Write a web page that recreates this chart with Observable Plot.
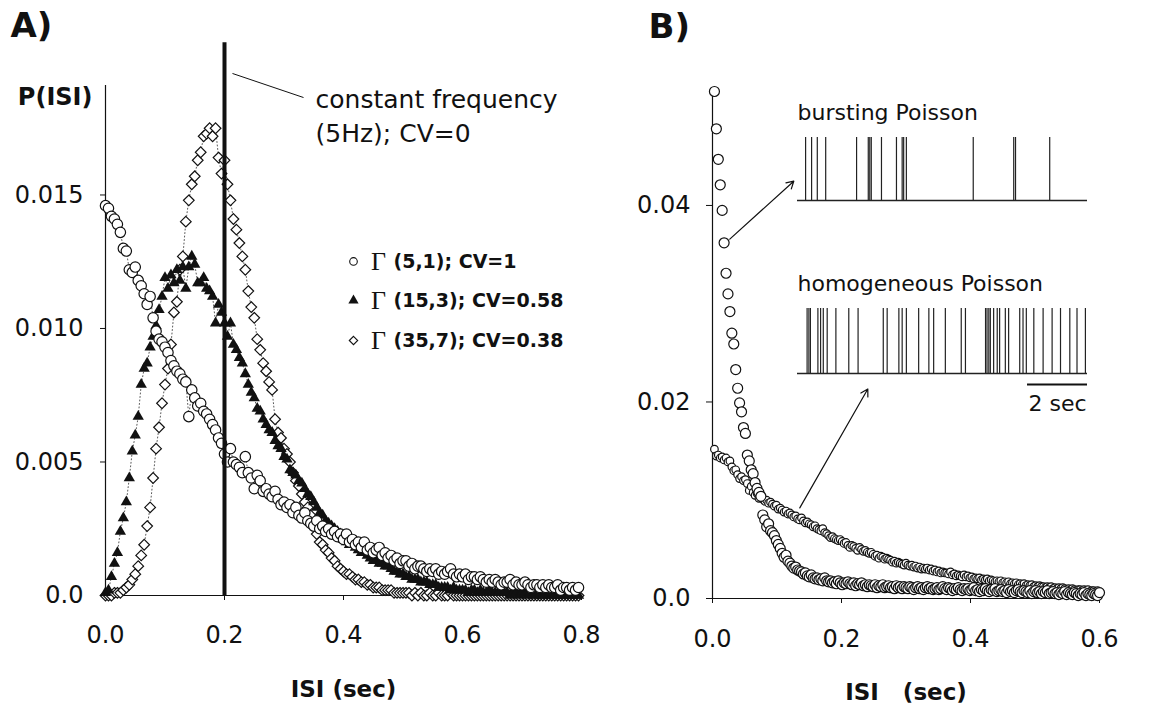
<!DOCTYPE html>
<html>
<head>
<meta charset="utf-8">
<script src="https://cdn.jsdelivr.net/npm/d3@7"></script>
<script src="https://cdn.jsdelivr.net/npm/@observablehq/plot@0.6"></script>
<style>
html, body { margin: 0; padding: 0; background: #fff; }
#chart { position: relative; width: 1152px; height: 706px; overflow: hidden; background: #fff; }
#chart > svg { position: absolute; }
</style>
</head>
<body>
<div id="chart"></div>
<script>
// ---------------- Panel A: ISI distributions of gamma processes ----------------
const binWidthA = 0.005;            // sec, ISI bin spacing in panel A
const xTicksA = [0, 0.2, 0.4, 0.6, 0.8];
const yTicksA = [0, 0.005, 0.010, 0.015];

const pGamma5_1 = [ // Γ(5,1); CV=1
0.0146,0.0145,0.0142,0.0141,0.0139,0.0136,0.0130,0.0129,0.0122,0.0121,
0.0123,0.0118,0.0116,0.0113,0.0109,0.0112,0.0104,0.0099,0.0096,0.0095,
0.0093,0.0091,0.0088,0.0086,0.0084,0.0083,0.0081,0.0080,0.0067,0.0077,
0.0074,0.0071,0.0072,0.0069,0.0068,0.0066,0.0064,0.0062,0.0059,0.0057,
0.0053,0.0050,0.0055,0.0050,0.0049,0.0048,0.0046,0.0052,0.0046,0.0044,
0.0040,0.0045,0.0043,0.0039,0.0040,0.0038,0.0037,0.0039,0.0036,0.0034,
0.0035,0.0033,0.0034,0.0031,0.0033,0.0030,0.0029,0.0031,0.0028,0.0027,
0.0026,0.0028,0.0025,0.0026,0.0024,0.0025,0.0023,0.0024,0.0022,0.0023,
0.0021,0.0023,0.0020,0.0021,0.0019,0.0020,0.0018,0.0020,0.0017,0.0018,
0.0016,0.0017,0.0018,0.0015,0.0016,0.0014,0.0015,0.0013,0.0014,0.0012,
0.0013,0.0013,0.0011,0.0012,0.0010,0.0011,0.0011,0.0010,0.0009,0.0010,
0.0009,0.0010,0.0008,0.0009,0.0008,0.0009,0.0010,0.0008,0.0007,0.0008,
0.0007,0.0008,0.0006,0.0007,0.0007,0.0006,0.0007,0.0006,0.0005,0.0006,
0.0005,0.0006,0.0005,0.0004,0.0005,0.0005,0.0006,0.0004,0.0005,0.0004,
0.0004,0.0005,0.0004,0.0003,0.0004,0.0004,0.0003,0.0004,0.0003,0.0004,
0.0003,0.0003,0.0004,0.0002,0.0003,0.0003,0.0002,0.0003,0.0002,0.0003];

const pGamma15_3 = [ // Γ(15,3); CV=0.58
0.0001,0.0002,0.0007,0.0012,0.0016,0.0024,0.0029,0.0035,0.0044,0.0054,
0.0060,0.0067,0.0079,0.0085,0.0087,0.0093,0.0097,0.0101,0.0107,0.0112,
0.0119,0.0115,0.0120,0.0117,0.0122,0.0118,0.0123,0.0115,0.0123,0.0127,
0.0124,0.0117,0.0117,0.0119,0.0115,0.0114,0.0112,0.0102,0.0109,0.0106,
0.0102,0.0097,0.0102,0.0094,0.0092,0.0089,0.0087,0.0083,0.0079,0.0076,
0.0074,0.0070,0.0069,0.0066,0.0064,0.0062,0.0061,0.0058,0.0056,0.0055,
0.0052,0.0051,0.0047,0.0046,0.0045,0.0043,0.0042,0.0040,0.0038,0.0037,
0.0035,0.0033,0.0031,0.0030,0.0028,0.0027,0.0026,0.0025,0.0024,0.0023,
0.0021,0.0020,0.0019,0.0019,0.0018,0.0017,0.0016,0.0016,0.0015,0.0014,
0.0013,0.0013,0.0012,0.0012,0.0011,0.0011,0.0010,0.0009,0.0009,0.0008,
0.0008,0.0007,0.0007,0.0006,0.0006,0.0006,0.0005,0.0005,0.0005,0.0004,
0.0004,0.0004,0.0003,0.0003,0.0003,0.0003,0.0002,0.0003,0.0002,0.0002,
0.0002,0.0002,0.0001,0.0002,0.0002,0.0001,0.0002,0.0001,0.0001,0.0002,
0.0001,0.0001,0.0001,0.0002,0.0001,0.0001,0.0000,0.0001,0.0001,0.0000,
0.0001,0.0001,0.0000,0.0001,0.0000,0.0001,0.0000,0.0000,0.0001,0.0000,
0.0000,0.0001,0.0000,0.0000,0.0000,0.0001,0.0000,0.0000,0.0000,0.0000];

const pGamma35_7 = [ // Γ(35,7); CV=0.38
0.0000,0.0000,0.0000,0.0001,0.0001,0.0001,0.0002,0.0003,0.0004,0.0006,
0.0008,0.0011,0.0015,0.0019,0.0026,0.0033,0.0044,0.0055,0.0063,0.0072,
0.0079,0.0085,0.0094,0.0106,0.0110,0.0122,0.0127,0.0140,0.0148,0.0154,
0.0157,0.0163,0.0166,0.0172,0.0173,0.0175,0.0172,0.0175,0.0164,0.0158,
0.0163,0.0154,0.0148,0.0141,0.0137,0.0132,0.0127,0.0122,0.0114,0.0108,
0.0104,0.0096,0.0092,0.0087,0.0084,0.0080,0.0077,0.0066,0.0061,0.0059,
0.0055,0.0053,0.0050,0.0046,0.0043,0.0041,0.0038,0.0035,0.0033,0.0030,
0.0026,0.0023,0.0020,0.0019,0.0017,0.0016,0.0014,0.0013,0.0011,0.0010,
0.0009,0.0008,0.0008,0.0007,0.0006,0.0006,0.0005,0.0005,0.0004,0.0004,
0.0003,0.0003,0.0003,0.0002,0.0002,0.0002,0.0002,0.0001,0.0001,0.0001,
0.0001,0.0001,0.0001,0.0000,0.0001,0.0000,0.0001,0.0000,0.0000,0.0001,
0.0000,0.0000,0.0001,0.0000,0.0000,0.0000,0.0001,0.0000,0.0000,0.0000,
0.0000,0.0000,0.0000,0.0000,0.0000,0.0000,0.0000,0.0000,0.0000,0.0000,
0.0000,0.0000,0.0000,0.0000,0.0000,0.0000,0.0000,0.0000,0.0000,0.0000,
0.0000,0.0000,0.0000,0.0000,0.0000,0.0000,0.0000,0.0000,0.0000,0.0000,
0.0000,0.0000,0.0000,0.0000,0.0000,0.0000,0.0000,0.0000,0.0000,0.0000];

// constant frequency (5 Hz): all ISIs equal 0.2 s
const constantISI = 0.2;
const constantPeak = 0.0207;

const legendLabels = ["(5,1); CV=1", "(15,3); CV=0.58", "(35,7); CV=0.38"];
const legendSymbols = ["circle", "triangle", "diamond2"];
const legendRowY = [0.01251, 0.01105, 0.00955];
const legendMarkerX = 0.4168, legendGammaX = 0.4462, legendTextX = 0.484;

const constAnnotLine = [{x1: 0.2134, y1: 0.01955, x2: 0.3328, y2: 0.01865}];
const constAnnotText = [
  {x: 0.353, y: 0.01854, text: "constant frequency"},
  {x: 0.353, y: 0.01728, text: "(5Hz); CV=0"}
];

// ---------------- Panel B: bursting vs homogeneous Poisson ----------------
const binWidthB = 0.003;
const xTicksB = [0, 0.2, 0.4, 0.6];
const yTicksB = [0, 0.02, 0.04];

const pBursting = [
0.0516,0.0478,0.0447,0.0421,0.0395,0.0362,0.0331,0.0310,0.0292,0.0270,
0.0259,0.0233,0.0214,0.0199,0.0190,0.0174,0.0168,0.0146,0.0140,0.0131,
0.0127,0.0118,0.0112,0.0108,0.0104,0.0085,0.0080,0.0073,0.0076,0.0069,
0.0067,0.0064,0.0059,0.0055,0.0051,0.0046,0.0042,0.0044,0.0038,0.0036,
0.0033,0.0031,0.0032,0.0029,0.0028,0.0027,0.0025,0.0026,0.0023,0.0022,
0.0024,0.0021,0.0020,0.0021,0.0019,0.0020,0.0018,0.0021,0.0018,0.0017,
0.0018,0.0016,0.0017,0.0015,0.0018,0.0016,0.0014,0.0016,0.0015,0.0017,
0.0015,0.0014,0.0016,0.0013,0.0015,0.0014,0.0016,0.0013,0.0014,0.0012,
0.0014,0.0013,0.0012,0.0014,0.0011,0.0013,0.0012,0.0014,0.0011,0.0012,
0.0013,0.0011,0.0012,0.0010,0.0013,0.0011,0.0012,0.0010,0.0012,0.0011,
0.0010,0.0012,0.0011,0.0009,0.0011,0.0012,0.0010,0.0011,0.0009,0.0011,
0.0012,0.0010,0.0011,0.0009,0.0010,0.0011,0.0009,0.0010,0.0012,0.0010,
0.0009,0.0011,0.0010,0.0008,0.0010,0.0009,0.0011,0.0009,0.0008,0.0010,
0.0009,0.0010,0.0008,0.0009,0.0011,0.0008,0.0009,0.0007,0.0009,0.0008,
0.0010,0.0008,0.0007,0.0009,0.0008,0.0010,0.0007,0.0008,0.0009,0.0007,
0.0008,0.0006,0.0009,0.0007,0.0008,0.0006,0.0008,0.0009,0.0007,0.0006,
0.0008,0.0007,0.0006,0.0008,0.0005,0.0007,0.0008,0.0006,0.0007,0.0005,
0.0007,0.0006,0.0008,0.0005,0.0006,0.0007,0.0005,0.0006,0.0004,0.0006,
0.0005,0.0007,0.0004,0.0006,0.0005,0.0004,0.0006,0.0005,0.0003,0.0005,
0.0004,0.0006,0.0003,0.0005,0.0004,0.0003,0.0005,0.0004,0.0003,0.0006];

const pHomogeneous = [
0.0152,0.0145,0.0146,0.0143,0.0144,0.0141,0.0143,0.0139,0.0140,0.0134,
0.0130,0.0131,0.0126,0.0122,0.0124,0.0120,0.0121,0.0117,0.0110,0.0114,
0.0108,0.0105,0.0107,0.0102,0.0104,0.0101,0.0099,0.0100,0.0097,0.0098,
0.0096,0.0094,0.0095,0.0091,0.0092,0.0090,0.0088,0.0089,0.0086,0.0087,
0.0085,0.0083,0.0084,0.0081,0.0080,0.0082,0.0079,0.0077,0.0078,0.0076,
0.0075,0.0073,0.0074,0.0071,0.0070,0.0069,0.0071,0.0067,0.0066,0.0064,
0.0062,0.0063,0.0061,0.0060,0.0059,0.0060,0.0058,0.0056,0.0057,0.0054,
0.0052,0.0054,0.0053,0.0051,0.0049,0.0052,0.0050,0.0048,0.0049,0.0047,
0.0046,0.0047,0.0045,0.0043,0.0044,0.0041,0.0043,0.0042,0.0040,0.0041,
0.0040,0.0039,0.0037,0.0038,0.0036,0.0037,0.0036,0.0035,0.0034,0.0036,
0.0034,0.0033,0.0034,0.0032,0.0033,0.0031,0.0032,0.0030,0.0031,0.0030,
0.0031,0.0029,0.0030,0.0028,0.0029,0.0027,0.0028,0.0026,0.0027,0.0026,
0.0026,0.0025,0.0027,0.0024,0.0025,0.0023,0.0024,0.0023,0.0022,0.0024,
0.0022,0.0023,0.0021,0.0022,0.0020,0.0021,0.0020,0.0021,0.0019,0.0020,
0.0019,0.0020,0.0018,0.0019,0.0018,0.0017,0.0018,0.0017,0.0018,0.0016,
0.0017,0.0016,0.0017,0.0015,0.0016,0.0015,0.0016,0.0014,0.0015,0.0014,
0.0015,0.0013,0.0014,0.0013,0.0014,0.0012,0.0013,0.0012,0.0013,0.0012,
0.0012,0.0011,0.0012,0.0011,0.0012,0.0010,0.0011,0.0010,0.0011,0.0010,
0.0011,0.0010,0.0009,0.0010,0.0009,0.0010,0.0009,0.0008,0.0009,0.0009,
0.0008,0.0009,0.0008,0.0009,0.0007,0.0008,0.0008,0.0007,0.0008,0.0007];

// inset spike trains (spike times in seconds)
const trainDuration = 9.67;
const burstingSpikes = [0.27, 0.47, 0.66, 0.94, 1.97, 2.36, 2.41, 2.46, 2.80, 3.30, 3.49, 3.54, 3.63, 5.86, 7.21, 7.27, 8.41];
const homogeneousSpikes = [0.32, 0.38, 0.43, 0.68, 0.77, 0.86, 0.99, 1.28, 1.71, 2.02, 2.86, 2.99, 3.38, 3.49, 3.63,
  4.04, 4.38, 4.54, 4.93, 5.46, 5.60, 6.27, 6.32, 6.38, 6.43, 6.54, 6.66, 6.74, 6.93, 7.04, 7.41, 7.52, 7.63,
  7.88, 8.19, 8.49, 8.77, 9.08, 9.32, 9.60];
const scaleBar = {start: 7.67, end: 9.67, label: "2 sec"};

const arrowsB = [
  {x1: 0.0268, y1: 0.03657, x2: 0.126, y2: 0.04247},
  {x1: 0.1353, y1: 0.00922, x2: 0.2408, y2: 0.02132}
];

// ---------------- Build ----------------
const INK = "#111";
const FONT = "'DejaVu Sans', sans-serif";
const chart = document.getElementById("chart");

function rows(values, bin, offset) {
  return values.map((p, i) => ({isi: (i + offset) * bin, p}));
}
const circlesA = rows(pGamma5_1, binWidthA, 0);
const trianglesA = rows(pGamma15_3, binWidthA, 0);
const diamondsA = rows(pGamma35_7, binWidthA, 0);
const burstB = rows(pBursting, binWidthB, 1);
const homoB = rows(pHomogeneous, binWidthB, 1);

const legendRows = legendLabels.map((label, i) => ({label, symbol: legendSymbols[i], y: legendRowY[i]}));

const baseStyle = {fontFamily: FONT, fontSize: "24px", color: INK, background: "none", overflow: "visible"};
const dotted = {x: "isi", y: "p", stroke: INK, strokeWidth: 0.7, strokeDasharray: "1,2.5"};

const panelA = Plot.plot({
  width: 600, height: 706,
  marginLeft: 105, marginRight: 19, marginTop: 85, marginBottom: 111,
  style: baseStyle,
  x: {domain: [0, 0.8]},
  y: {domain: [0, 0.0191]},
  marks: [
    Plot.axisX({ticks: xTicksA, tickFormat: d => d.toFixed(1), tickSize: 5, tickPadding: 25, fontSize: 24, label: null}),
    Plot.axisY({ticks: yTicksA, tickFormat: d => d === 0 ? "0.0" : d.toFixed(3), tickSize: 5, tickPadding: 17, fontSize: 24, label: null}),
    Plot.ruleX([0], {stroke: INK, strokeWidth: 1.2}),
    Plot.ruleY([0], {stroke: INK, strokeWidth: 1.2}),
    Plot.line(diamondsA, dotted),
    Plot.line(trianglesA, dotted),
    Plot.line(circlesA, dotted),
    Plot.dot(diamondsA, {x: "isi", y: "p", symbol: "diamond2", r: 4.8, stroke: INK, fill: "white", strokeWidth: 1.2}),
    Plot.dot(trianglesA, {x: "isi", y: "p", symbol: "triangle", r: 4.2, fill: INK, stroke: "none"}),
    Plot.dot(circlesA, {x: "isi", y: "p", symbol: "circle", r: 5.2, stroke: INK, fill: "white", strokeWidth: 1.2}),
    Plot.ruleX([constantISI], {y1: 0, y2: constantPeak, stroke: INK, strokeWidth: 4}),
    Plot.link(constAnnotLine, {x1: "x1", y1: "y1", x2: "x2", y2: "y2", stroke: INK, strokeWidth: 1}),
    Plot.text(constAnnotText, {x: "x", y: "y", text: "text", textAnchor: "start", lineAnchor: "middle", fontSize: 25, fill: INK}),
    // legend
    Plot.dot(legendRows, {x: legendMarkerX, y: "y", symbol: "symbol", r: 3.8,
      fill: d => d.symbol === "triangle" ? INK : "white", stroke: d => d.symbol === "triangle" ? "none" : INK, strokeWidth: 1.1}),
    Plot.text(legendRows, {x: legendGammaX, y: "y", text: () => "Γ", textAnchor: "start", lineAnchor: "middle",
      fontFamily: "'Liberation Serif', 'Times New Roman', serif", fontSize: 26, fill: INK}),
    Plot.text(legendRows, {x: legendTextX, y: "y", text: "label", textAnchor: "start", lineAnchor: "middle",
      fontSize: 19, fontWeight: "bold", fill: INK}),
    // titles
    Plot.text(["A)"], {text: d => d, frameAnchor: "top-left", dx: -95, dy: -59, textAnchor: "start", lineAnchor: "middle", fontSize: 34, fontWeight: "bold", fill: INK}),
    Plot.text(["P(ISI)"], {text: d => d, frameAnchor: "top-left", dx: -13, dy: 12, textAnchor: "end", lineAnchor: "middle", fontSize: 24, fontWeight: "bold", fill: INK}),
    Plot.text(["ISI (sec)"], {text: d => d, frameAnchor: "bottom", dy: 94, lineAnchor: "middle", fontSize: 23, fontWeight: "bold", fill: INK})
  ]
});
panelA.style.left = "0px"; panelA.style.top = "0px";
chart.appendChild(panelA);

const panelB = Plot.plot({
  width: 552, height: 706,
  marginLeft: 112, marginRight: 53, marginTop: 90, marginBottom: 108,
  style: baseStyle,
  x: {domain: [0, 0.6]},
  y: {domain: [0, 0.0517]},
  marks: [
    Plot.axisX({ticks: xTicksB, tickFormat: d => d.toFixed(1), tickSize: 5, tickPadding: 26, fontSize: 24, label: null}),
    Plot.axisY({ticks: yTicksB, tickFormat: d => d === 0 ? "0.0" : d.toFixed(2), tickSize: 6, tickPadding: 16, fontSize: 24, label: null}),
    Plot.ruleX([0], {stroke: INK, strokeWidth: 1.2}),
    Plot.ruleY([0], {stroke: INK, strokeWidth: 1.2}),
    Plot.dot(homoB, {x: "isi", y: "p", r: 3.8, stroke: INK, fill: "white", strokeWidth: 1.2}),
    Plot.dot(burstB, {x: "isi", y: "p", r: 5, stroke: INK, fill: "white", strokeWidth: 1.2}),
    Plot.arrow(arrowsB, {x1: "x1", y1: "y1", x2: "x2", y2: "y2", stroke: INK, strokeWidth: 1.2, headLength: 10, insetStart: 0, insetEnd: 0}),
    Plot.text(["B)"], {text: d => d, frameAnchor: "top-left", dx: -64, dy: -63, textAnchor: "start", lineAnchor: "middle", fontSize: 34, fontWeight: "bold", fill: INK}),
    Plot.text(["ISI\u00a0\u00a0\u00a0(sec)"], {text: d => d, frameAnchor: "bottom", dy: 94, lineAnchor: "middle", fontSize: 23, fontWeight: "bold", fill: INK})
  ]
});
panelB.style.left = "600px"; panelB.style.top = "0px";
chart.appendChild(panelB);

const insetStyle = {fontFamily: FONT, fontSize: "22px", color: INK, background: "none", overflow: "visible"};

const insetBurst = Plot.plot({
  width: 290, height: 110, marginLeft: 0, marginRight: 0, marginTop: 42, marginBottom: 5,
  style: insetStyle,
  x: {domain: [0, trainDuration], axis: null},
  y: {domain: [0, 1], axis: null},
  marks: [
    Plot.ruleY([0], {stroke: "#222", strokeWidth: 1.3}),
    Plot.ruleX(burstingSpikes, {x: d => d, y1: 0, y2: 1, stroke: "#222", strokeWidth: 1.2}),
    Plot.text(["bursting Poisson"], {text: d => d, frameAnchor: "top-left", dy: -25, textAnchor: "start", lineAnchor: "middle", fontSize: 22, fill: INK})
  ]
});
insetBurst.style.left = "797px"; insetBurst.style.top = "95px";
chart.appendChild(insetBurst);

const insetHomo = Plot.plot({
  width: 290, height: 155, marginLeft: 0, marginRight: 0, marginTop: 43, marginBottom: 47,
  style: insetStyle,
  x: {domain: [0, trainDuration], axis: null},
  y: {domain: [0, 1], axis: null},
  marks: [
    Plot.ruleY([0], {stroke: "#222", strokeWidth: 1.3}),
    Plot.ruleX(homogeneousSpikes, {x: d => d, y1: 0, y2: 1, stroke: "#222", strokeWidth: 1.2}),
    Plot.ruleY([0], {x1: scaleBar.start, x2: scaleBar.end, dy: 11, stroke: INK, strokeWidth: 2}),
    Plot.text([scaleBar.label], {text: d => d, x: (scaleBar.start + scaleBar.end) / 2, y: 0, dy: 30, lineAnchor: "middle", fontSize: 22, fill: INK}),
    Plot.text(["homogeneous Poisson"], {text: d => d, frameAnchor: "top-left", dy: -25, textAnchor: "start", lineAnchor: "middle", fontSize: 22, fill: INK})
  ]
});
insetHomo.style.left = "797px"; insetHomo.style.top = "265px";
chart.appendChild(insetHomo);
</script>
</body>
</html>
